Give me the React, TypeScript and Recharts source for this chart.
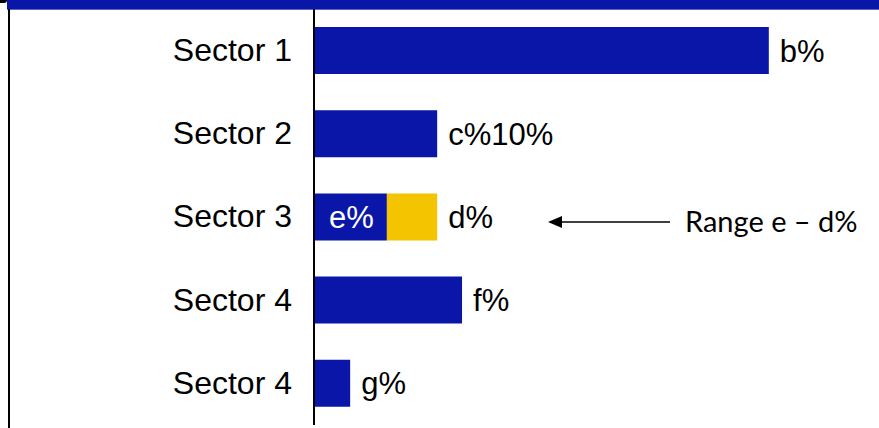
import React from "react";
import { BarChart, Bar, XAxis, YAxis, LabelList } from "recharts";

// sector rows, top to bottom
const sectors = ["Sector 1", "Sector 2", "Sector 3", "Sector 4", "Sector 4"];
// main (blue) share, % of the axis
const baseValues = [80.5, 21.8, 12.9, 26.2, 6.4];
// range part (yellow), only for sector 3
const rangeValues = [0, 0, 8.9, 0, 0];
const endLabels = ["b%", "c%10%", "d%", "f%", "g%"];
const innerLabels = ["", "", "e%", "", ""];

// end label goes after the yellow part when a row has one
const data = sectors.map((name, i) => ({
  id: i,
  name,
  base: baseValues[i],
  range: rangeValues[i],
  baseEnd: rangeValues[i] > 0 ? "" : endLabels[i],
  rangeEnd: rangeValues[i] > 0 ? endLabels[i] : "",
  inner: innerLabels[i],
}));

const BLUE = "#0A16A8";
const YELLOW = "#F5C400";
const FONT = "'Liberation Sans', Arial, sans-serif";

export default function App() {
  return (
    <div style={{ position: "absolute", left: 0, top: 0, width: 879, height: 428, background: "#fff", overflow: "hidden" }}>
      {/* header band */}
      <div style={{ position: "absolute", left: 7, top: 0, width: 872, height: 9, background: BLUE }} />
      <div style={{ position: "absolute", left: 7, top: 9, width: 872, height: 1, background: "#5A64C8" }} />
      <div style={{ position: "absolute", left: 0, top: 0, width: 7, height: 3, background: "#000", borderBottomRightRadius: 3 }} />
      {/* left frame line */}
      <div style={{ position: "absolute", left: 8, top: 9, width: 2, height: 419, background: "#000" }} />

      <div style={{ position: "absolute", left: 0, top: 0 }}>
        <BarChart
          width={879}
          height={428}
          data={data}
          layout="vertical"
          margin={{ top: 9, right: 0, left: 0, bottom: 3 }}
        >
          <XAxis type="number" domain={[0, 100]} hide />
          <YAxis
            type="category"
            dataKey="id"
            width={314}
            tickFormatter={(v) => sectors[v]}
            axisLine={{ stroke: "#000", strokeWidth: 2 }}
            tickLine={false}
            tickSize={6}
            tickMargin={16}
            tick={{ fill: "#000", fontSize: 32, fontFamily: FONT, dy: -1 }}
          />
          <Bar dataKey="base" stackId="s" fill={BLUE} barSize={47} isAnimationActive={false}>
            <LabelList
              dataKey="inner"
              position="insideLeft"
              offset={15}
              fill="#fff"
              fontSize={31}
              fontFamily={FONT}
            />
            <LabelList
              dataKey="baseEnd"
              position="right"
              offset={11}
              fill="#000"
              fontSize={31}
              fontFamily={FONT}
            />
          </Bar>
          <Bar dataKey="range" stackId="s" fill={YELLOW} barSize={47} isAnimationActive={false}>
            <LabelList
              dataKey="rangeEnd"
              position="right"
              offset={11}
              fill="#000"
              fontSize={31}
              fontFamily={FONT}
            />
          </Bar>
        </BarChart>
      </div>

      {/* annotation for the range row */}
      <svg style={{ position: "absolute", left: 540, top: 205, overflow: "visible" }} width={140} height={34}>
        <line x1={16} y1={17} x2={130} y2={17} stroke="#000" strokeWidth={1.5} />
        <polygon points="8,17 22,11 22,23" fill="#000" />
      </svg>
      <div
        style={{
          position: "absolute",
          left: 685,
          top: 203,
          fontFamily: "Lato, 'Open Sans', sans-serif",
          fontSize: 29,
          lineHeight: "36px",
          color: "#000",
          whiteSpace: "nowrap",
        }}
      >
        Range e – d%
      </div>
    </div>
  );
}
